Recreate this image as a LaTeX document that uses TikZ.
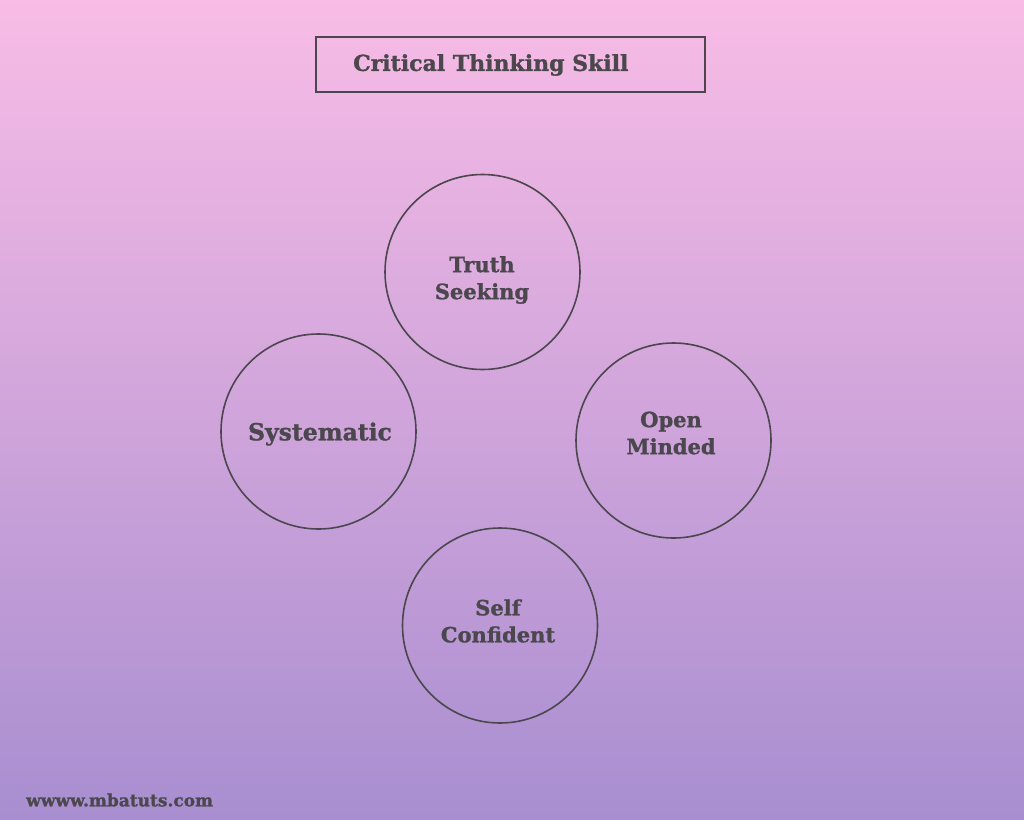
\documentclass[tikz,border=0pt]{standalone}
\usepackage{fontspec}
\setmainfont{DejaVu Serif}[BoldFeatures={FakeBold=1.2}]
\definecolor{bgtop}{RGB}{248,188,230}
\definecolor{bgbot}{RGB}{168,142,208}
\definecolor{ink}{RGB}{74,72,76}
\begin{document}
\begin{tikzpicture}[x=1pt,y=-1pt,
  lbl/.style={text=ink,font=\bfseries\fontsize{21}{27}\selectfont,align=center,inner sep=0pt},
  circ/.style={draw=ink,line width=1.6pt,circle,minimum size=195pt,inner sep=0pt}]
\shade[top color=bgtop,bottom color=bgbot] (0,0) rectangle (1024,819);
\useasboundingbox (0,0) rectangle (1024,819);
\node[draw=ink,line width=1.6pt,minimum width=389pt,minimum height=55pt,inner sep=0pt] (title) at (510.5,64.5) {};
\node[anchor=west,text=ink,font=\bfseries\fontsize{22}{26}\selectfont,inner sep=0pt] (tt) at (353,65) {Critical Thinking Skill};
\node[circ] (truth) at (482.5,272) {};
\node[lbl] (truthl) at (482,280) {Truth\\Seeking};
\node[circ] (sys) at (318.5,431.5) {};
\node[lbl,font=\bfseries\fontsize{23.5}{27}\selectfont] (sysl) at (320,434) {Systematic};
\node[circ] (open) at (673.5,440.5) {};
\node[lbl] (openl) at (671,433) {Open\\Minded};
\node[circ] (self) at (500,625.5) {};
\node[lbl] (selfl) at (498,621) {Self\\Confident};
\node[anchor=west,text=ink,font=\bfseries\fontsize{17}{20}\selectfont,inner sep=0pt] (url) at (26,800) {wwww.mbatuts.com};
\end{tikzpicture}
\end{document}
